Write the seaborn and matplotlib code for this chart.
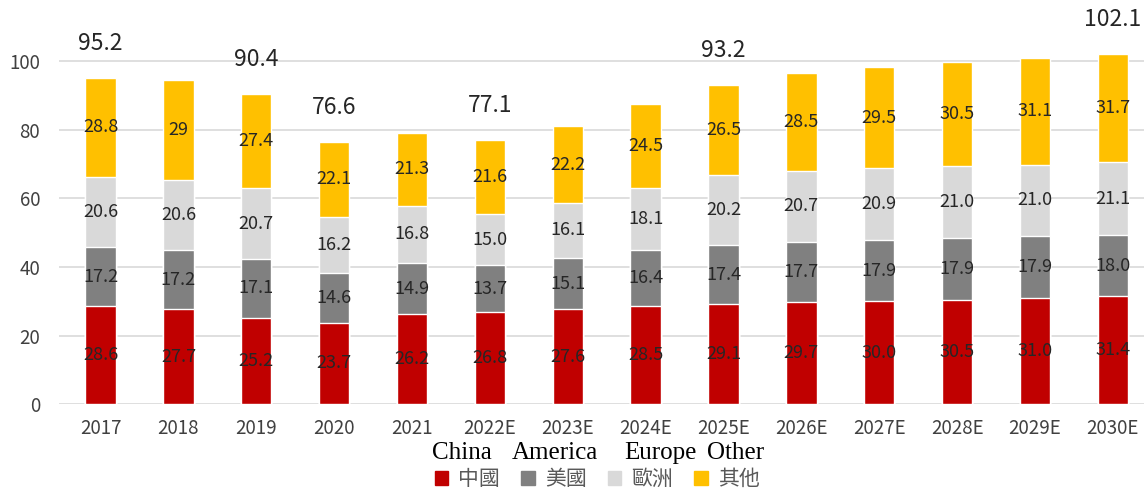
import matplotlib
matplotlib.use("Agg")
import matplotlib.pyplot as plt
import matplotlib.patches as mpatches
import pandas as pd
import seaborn as sns
import numpy as np

years = ['2017', '2018', '2019', '2020', '2021', '2022E', '2023E', '2024E',
         '2025E', '2026E', '2027E', '2028E', '2029E', '2030E']
china = [28.6, 27.7, 25.2, 23.7, 26.2, 26.8, 27.6, 28.5, 29.1, 29.7, 30.0, 30.5, 31.0, 31.4]
america = [17.2, 17.2, 17.1, 14.6, 14.9, 13.7, 15.1, 16.4, 17.4, 17.7, 17.9, 17.9, 17.9, 18.0]
europe = [20.6, 20.6, 20.7, 16.2, 16.8, 15.0, 16.1, 18.1, 20.2, 20.7, 20.9, 21.0, 21.0, 21.1]
other = [28.8, 29, 27.4, 22.1, 21.3, 21.6, 22.2, 24.5, 26.5, 28.5, 29.5, 30.5, 31.1, 31.7]
other_labels = ['28.8', '29', '27.4', '22.1', '21.3', '21.6', '22.2', '24.5',
                '26.5', '28.5', '29.5', '30.5', '31.1', '31.7']
total_labels = ['95.2', None, '90.4', '76.6', None, '77.1', None, None,
                '93.2', None, None, None, None, '102.1']

series_zh = ['中國', '美國', '歐洲', '其他']
series_en = ['China', 'America', 'Europe', 'Other']
colors = ['#C00000', '#808080', '#D9D9D9', '#FFC000']

sns.set_style('white')
plt.rcParams['font.family'] = ['Noto Sans CJK TC', 'DejaVu Sans']

df = pd.DataFrame({'year': years, 'china': china, 'america': america,
                   'europe': europe, 'other': other})
layers = ['china', 'america', 'europe', 'other']
cum = df[layers].cumsum(axis=1)

fig = plt.figure(figsize=(11.44, 4.88), dpi=100)
ax = fig.add_axes([0.052, 0.172, 0.948, 0.7725])

# draw from the top of the stack down so lower layers cover upper ones
for i in reversed(range(4)):
    sns.barplot(x=df['year'], y=cum[layers[i]], color=colors[i], width=0.39,
                saturation=1, ax=ax, zorder=3)

# segment labels
label_sets = [
    ['%.1f' % v for v in china],
    ['%.1f' % v for v in america],
    ['%.1f' % v for v in europe],
    other_labels,
]
for i, col in enumerate(layers):
    bottoms = cum[col] - df[col]
    for j in range(len(years)):
        ax.text(j, bottoms[j] + df[col][j] / 2, label_sets[i][j], ha='center',
                va='center', fontsize=13, color='#262626', zorder=5)

totals = cum['other']
for j, lab in enumerate(total_labels):
    if lab:
        ax.text(j, totals[j] + 10, lab, ha='center', va='center',
                fontsize=16.5, color='#262626')

ax.set_xlim(-0.527, 13.4)
ax.set_ylim(0, 110)
ax.set_yticks([0, 20, 40, 60, 80, 100])
ax.yaxis.grid(True, color='#D9D9D9', linewidth=1.2, zorder=0)
ax.set_axisbelow(True)
for s in ax.spines.values():
    s.set_visible(False)
ax.set_xlabel('')
ax.set_ylabel('')
ax.tick_params(axis='both', length=0, labelsize=13.5, colors='#404040')
ax.tick_params(axis='x', pad=10)
ax.tick_params(axis='y', pad=14)

# english words over the legend
en_x = [0.378, 0.4475, 0.546, 0.618]
for word, xx in zip(series_en, en_x):
    fig.text(xx, 0.071, word, fontsize=18, family=['Liberation Serif'],
             color='black', va='center', ha='left')

handles = [mpatches.Patch(color=c, label=l) for c, l in zip(colors, series_zh)]
leg = fig.legend(handles=handles, loc='center', bbox_to_anchor=(0.522, 0.018),
                 ncol=4, frameon=False, fontsize=15, handlelength=0.65,
                 handleheight=0.65, handletextpad=0.5, columnspacing=1.0)
for t in leg.get_texts():
    t.set_color('#595959')

fig.savefig('out.png', dpi=100)
